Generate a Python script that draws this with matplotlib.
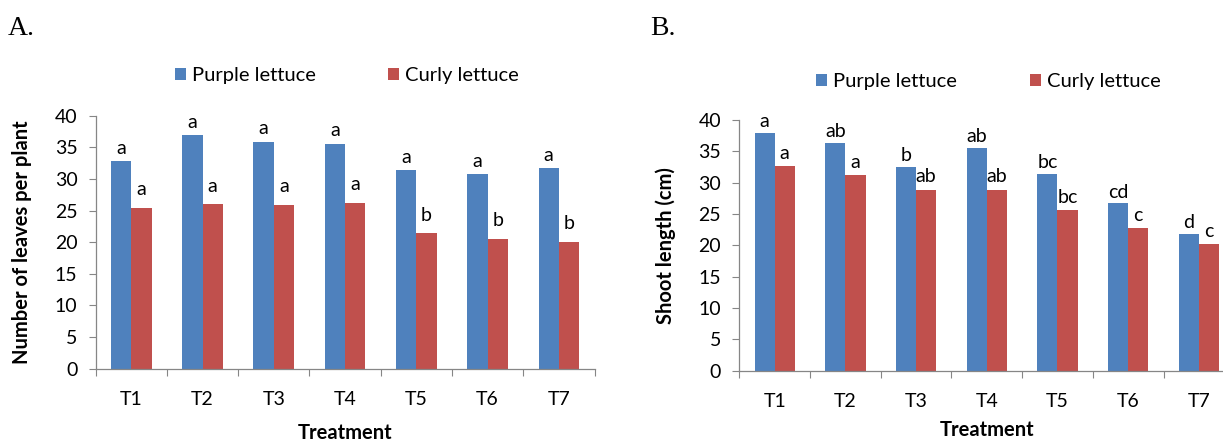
import matplotlib.pyplot as plt
import numpy as np

plt.rcParams['font.family'] = ['Lato', 'DejaVu Sans']

treatments = ["T1", "T2", "T3", "T4", "T5", "T6", "T7"]
series = ["Purple lettuce", "Curly lettuce"]

# A. number of leaves per plant
leaves_purple = [32.8, 36.9, 35.9, 35.6, 31.4, 30.8, 31.7]
leaves_curly = [25.4, 26.0, 25.9, 26.2, 21.4, 20.5, 20.0]
leaves_purple_sig = ["a", "a", "a", "a", "a", "a", "a"]
leaves_curly_sig = ["a", "a", "a", "a", "b", "b", "b"]

# B. shoot length (cm)
shoot_purple = [37.9, 36.4, 32.5, 35.5, 31.4, 26.7, 21.8]
shoot_curly = [32.6, 31.2, 28.9, 28.9, 25.6, 22.8, 20.2]
shoot_purple_sig = ["a", "ab", "b", "ab", "bc", "cd", "d"]
shoot_curly_sig = ["a", "a", "ab", "ab", "bc", "c", "c"]

blue = "#4F81BD"
red = "#C0504D"
axis_grey = "#868686"

fig = plt.figure(figsize=(12.23, 4.41), dpi=100)
ax1 = fig.add_axes([0.0782, 0.1639, 0.4079, 0.5737])
ax2 = fig.add_axes([0.6045, 0.1594, 0.4047, 0.5685])


def draw_panel(ax, purple, curly, purple_sig, curly_sig, ylabel, pads,
               label_x, xlabel_y, leg_xy):
    x = np.arange(len(treatments))
    w = 0.285
    b1 = ax.bar(x - w / 2, purple, w, color=blue, label=series[0])
    b2 = ax.bar(x + w / 2, curly, w, color=red, label=series[1])
    ax.bar_label(b1, labels=purple_sig, padding=pads[0], fontsize=14)
    ax.bar_label(b2, labels=curly_sig, padding=pads[1], fontsize=14)

    ax.set_ylim(0, 40)
    ax.set_yticks(np.arange(0, 41, 5))
    ax.set_xlim(-0.5, len(treatments) - 0.5)
    ax.set_xticks(np.arange(-0.5, len(treatments)), [""] * (len(treatments) + 1))
    ax.set_xticks(x, treatments, minor=True)

    for s in ["top", "right"]:
        ax.spines[s].set_visible(False)
    for s in ["left", "bottom"]:
        ax.spines[s].set_color(axis_grey)
        ax.spines[s].set_linewidth(0.9)
    ax.tick_params(axis="y", length=5, color=axis_grey, labelsize=14, pad=8)
    ax.tick_params(axis="x", which="major", length=5, color=axis_grey)
    ax.tick_params(axis="x", which="minor", length=0, labelsize=14, pad=16)

    ax.set_ylabel(ylabel, fontsize=14.5, fontweight="bold")
    ax.yaxis.set_label_coords(label_x, 0.5)
    ax.set_xlabel("Treatment", fontsize=14.5, fontweight="bold")
    ax.xaxis.set_label_coords(0.5, xlabel_y)

    ax.legend(loc="center", bbox_to_anchor=leg_xy, ncol=2, frameon=False,
              fontsize=14.5, handlelength=0.55, handleheight=0.55,
              handletextpad=0.3, columnspacing=3.6)


draw_panel(ax1, leaves_purple, leaves_curly, leaves_purple_sig, leaves_curly_sig,
           "Number of leaves per plant", (3, 7), -0.128, -0.215, (0.504, 1.157))
draw_panel(ax2, shoot_purple, shoot_curly, shoot_purple_sig, shoot_curly_sig,
           "Shoot length (cm)", (2, 3), -0.128, -0.195, (0.503, 1.152))

fig.text(0.006, 0.935, "A.", family="Liberation Serif", fontsize=20, va="center")
fig.text(0.532, 0.935, "B.", family="Liberation Serif", fontsize=20, va="center")

fig.savefig("out.png", dpi=100)
